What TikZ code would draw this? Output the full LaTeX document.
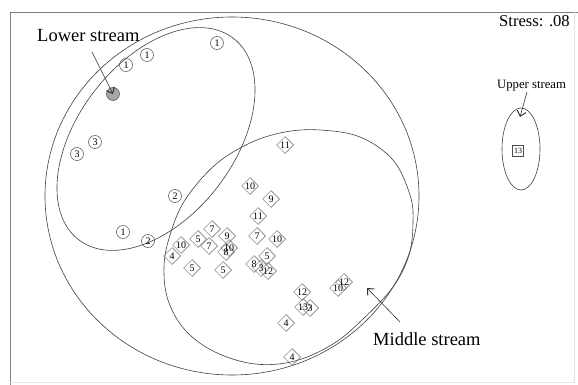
\documentclass[tikz,border=0pt]{standalone}
\usepackage{fontspec}
\setmainfont{Liberation Serif}
\usetikzlibrary{shapes.geometric,arrows.meta}

\tikzset{
  site/.style={circle,draw=black!70,line width=0.5pt,inner sep=0pt,minimum size=13pt,font=\fontsize{10}{10}\selectfont},
  midsite/.style={diamond,draw=black!60,line width=0.5pt,inner sep=0pt,minimum size=17pt,font=\fontsize{10}{10}\selectfont},
  upsite/.style={rectangle,draw=black!70,line width=0.5pt,inner sep=1pt,minimum size=11pt,font=\fontsize{8}{8}\selectfont},
  bound/.style={draw=black!75,line width=0.6pt},
  tag/.style={inner sep=0pt,anchor=base west,font=\fontsize{18.5}{20}\selectfont},
  pointer/.style={-{Straight Barb[length=5pt,width=9pt,line width=1pt]},line width=0.6pt,draw=black!80}
}

\begin{document}
\begin{tikzpicture}[x=1pt,y=-1pt]
		\useasboundingbox (0,0) rectangle (578,385);
		\draw[black!50,line width=0.8pt] (10,385) -- (10,12) -- (578,12);
		\draw[black!10,line width=0.5pt] (574,12) -- (574,382) -- (10,382);

		% groups
		\draw[bound] (232,196) ellipse (187 and 179);
		\draw[bound,rotate around={52.5:(156,139)}] (156,139) ellipse (127 and 78);
		\draw[bound] plot[smooth cycle,tension=0.6] coordinates {(320,130) (360,137) (393,160) (410,195) (413,222) (409,255) (393,287) (362,320) (333,344) (295,361) (255,364) (215,352) (185,330) (168,300) (164,267) (170,235) (185,200) (215,165) (250,143) (285,132)};
		\draw[bound] (521,149) ellipse (19 and 41);

		% lower stream sites
		\node[site] (lo1) at (217,43) {1};
		\node[site] (lo2) at (147,55) {1};
		\node[site] (lo3) at (126,65) {1};
		\node[site,fill=black!35] (lo4) at (113,94) {};
		\node[site] (lo5) at (95,142) {3};
		\node[site] (lo6) at (77,154) {3};
		\node[site] (lo7) at (175,196) {2};
		\node[site] (lo8) at (123,232) {1};
		\node[site] (lo9) at (148,241) {2};

		% middle stream sites
		\node[midsite] (mi1) at (285,145) {11};
		\node[midsite] (mi2) at (250,186) {10};
		\node[midsite] (mi3) at (271,199) {9};
		\node[midsite] (mi4) at (258,216) {11};
		\node[midsite] (mi5) at (257,236) {7};
		\node[midsite] (mi6) at (277,239) {10};
		\node[midsite] (mi7) at (212,229) {7};
		\node[midsite] (mi8) at (227,236) {9};
		\node[midsite] (mi9) at (198,239) {5};
		\node[midsite] (mi10) at (181,245) {10};
		\node[midsite] (mi11) at (209,246) {7};
		\node[midsite] (mi12) at (226,252) {8};
		\node[midsite] (mi13) at (229,248) {10};
		\node[midsite] (mi14) at (172,256) {4};
		\node[midsite] (mi15) at (192,268) {5};
		\node[midsite] (mi16) at (223,270) {5};
		\node[midsite] (mi17) at (267,256) {5};
		\node[midsite] (mi18) at (254,264) {8};
		\node[midsite] (mi19) at (261,268) {3};
		\node[midsite] (mi20) at (268,271) {12};
		\node[midsite] (mi21) at (302,292) {12};
		\node[midsite] (mi22) at (303,307) {13};
		\node[midsite] (mi23) at (310,308) {3};
		\node[midsite] (mi24) at (338,288) {10};
		\node[midsite] (mi25) at (344,282) {12};
		\node[midsite] (mi26) at (286,323) {4};
		\node[midsite] (mi27) at (292,357) {4};

		% upper stream site
		\node[upsite] (up1) at (518,151) {13};

		% labels
		\node[tag] (lowertag) at (37,42) {Lower stream};
		\node[tag] (middletag) at (373,345) {Middle stream};
		\node[tag,font=\fontsize{12.7}{14}\selectfont] (uppertag) at (497,89) {Upper stream};
		\node[tag,font=\fontsize{16.6}{18}\selectfont] (stress) at (499,27) {Stress: .08};

		\coordinate (lowertail) at (92,52);
		\coordinate (uppertail) at (527,92);
		\coordinate (uppertip) at (520,117);
		\coordinate (middletail) at (400,322);
		\coordinate (middletip) at (367,288);
		\draw[pointer] (lowertail) -- (lo4.center);
		\draw[pointer] (uppertail) -- (uppertip);
		\draw[pointer] (middletail) -- (middletip);
	\end{tikzpicture}
\end{document}
